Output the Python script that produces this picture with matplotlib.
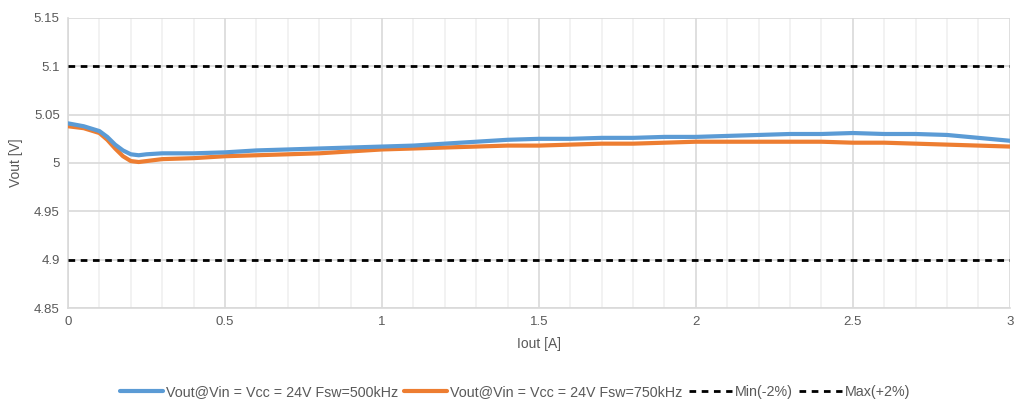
import matplotlib
matplotlib.use("Agg")
import matplotlib.pyplot as plt
from matplotlib.ticker import MultipleLocator, FuncFormatter

# Iout [A]
iout = [0.0, 0.05, 0.1, 0.125, 0.15, 0.175, 0.2, 0.225, 0.25, 0.3, 0.4, 0.5, 0.6,
        0.7, 0.8, 0.9, 1.0, 1.1, 1.2, 1.3, 1.4, 1.5, 1.6, 1.7, 1.8, 1.9, 2.0,
        2.1, 2.2, 2.3, 2.4, 2.5, 2.6, 2.7, 2.8, 2.9, 3.0]

vout_500k = [5.041, 5.038, 5.033, 5.027, 5.019, 5.013, 5.009, 5.008, 5.009, 5.010,
             5.010, 5.011, 5.013, 5.014, 5.015, 5.016, 5.017, 5.018, 5.020, 5.022,
             5.024, 5.025, 5.025, 5.026, 5.026, 5.027, 5.027, 5.028, 5.029, 5.030,
             5.030, 5.031, 5.030, 5.030, 5.029, 5.026, 5.023]

vout_750k = [5.038, 5.036, 5.031, 5.024, 5.015, 5.007, 5.002, 5.001, 5.002, 5.004,
             5.005, 5.007, 5.008, 5.009, 5.010, 5.012, 5.014, 5.015, 5.016, 5.017,
             5.018, 5.018, 5.019, 5.020, 5.020, 5.021, 5.022, 5.022, 5.022, 5.022,
             5.022, 5.021, 5.021, 5.020, 5.019, 5.018, 5.017]

v_min = 4.9
v_max = 5.1

labels = ["Vout@Vin = Vcc = 24V Fsw=500kHz", "Vout@Vin = Vcc = 24V Fsw=750kHz",
          "Min(-2%)", "Max(+2%)"]

BLUE = "#5B9BD5"
ORANGE = "#ED7D31"
TXT = "#595959"

plt.rcParams["font.family"] = ["Liberation Sans", "DejaVu Sans"]

fig, ax = plt.subplots(figsize=(10.2, 4.05), dpi=100)
fig.subplots_adjust(left=0.0667, right=0.990, top=0.9556, bottom=0.2395)

ax.plot(iout, vout_500k, color=BLUE, lw=3.0, solid_capstyle="round",
        solid_joinstyle="round", label=labels[0], zorder=4)
ax.plot(iout, vout_750k, color=ORANGE, lw=3.0, solid_capstyle="round",
        solid_joinstyle="round", label=labels[1], zorder=3)
ax.plot([iout[0], iout[-1]], [v_min, v_min], color="black", lw=2.0,
        ls=(0, (2.4, 2.0)), label=labels[2], zorder=3)
ax.plot([iout[0], iout[-1]], [v_max, v_max], color="black", lw=2.0,
        ls=(0, (2.4, 2.0)), label=labels[3], zorder=3)

ax.set_xlim(0, 3)
ax.set_ylim(4.85, 5.15)
ax.xaxis.set_major_locator(MultipleLocator(0.5))
ax.xaxis.set_minor_locator(MultipleLocator(0.1))
ax.yaxis.set_major_locator(MultipleLocator(0.05))

fmt = FuncFormatter(lambda v, p: f"{v:.2f}".rstrip("0").rstrip("."))
ax.xaxis.set_major_formatter(fmt)
ax.yaxis.set_major_formatter(fmt)

ax.grid(which="major", color="#D9D9D9", lw=1.2)
ax.grid(which="minor", axis="x", color="#F0F0F0", lw=1.2)
ax.set_axisbelow(True)

for s in ["top", "right"]:
    ax.spines[s].set_visible(False)
for s in ["left", "bottom"]:
    ax.spines[s].set_color("#D9D9D9")
    ax.spines[s].set_linewidth(1.2)

ax.tick_params(which="both", length=0, labelsize=9.5, colors=TXT, pad=6)
ax.set_xlabel("Iout [A]", fontsize=10, color=TXT, labelpad=6)
ax.set_ylabel("Vout [V]", fontsize=10, color=TXT, labelpad=8)

fig.legend(loc="lower center", bbox_to_anchor=(0.505, -0.018), ncol=4, frameon=False,
           fontsize=10.3, labelcolor=TXT, handlelength=3.0, handletextpad=0.2,
           columnspacing=0.45)

fig.savefig("out.png", dpi=100)
